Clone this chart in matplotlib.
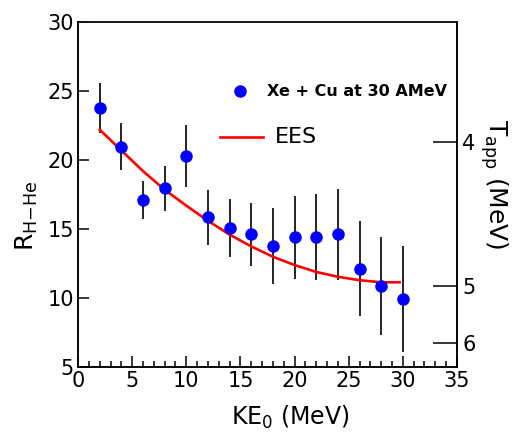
import numpy as np
import matplotlib
matplotlib.use("Agg")
import matplotlib.pyplot as plt
from matplotlib.ticker import MultipleLocator

plt.rcParams['font.family'] = ['DejaVu Sans']
plt.rcParams['mathtext.default'] = 'regular'

# measured ratio vs kinetic energy
ke = [2, 4, 6, 8, 10, 12, 14, 16, 18, 20, 22, 24, 26, 28, 30]
r_hhe = [23.75, 20.97, 17.1, 17.95, 20.3, 15.85, 15.1, 14.62, 13.77, 14.42, 14.42, 14.62, 12.13, 10.87, 9.93]
r_err = [1.8, 1.7, 1.4, 1.65, 2.25, 2.0, 2.1, 2.3, 2.75, 3.0, 3.1, 3.3, 3.45, 3.55, 3.85]

# EES model curve
ees_ke = [2, 4, 6, 8, 10, 12, 14, 16, 18, 20, 22, 24, 26, 28, 29.7]
ees_r = [22.2, 20.7, 19.2, 17.85, 16.7, 15.6, 14.6, 13.75, 13.0, 12.4, 11.9, 11.55, 11.3, 11.15, 11.15]

# apparent temperature axis (R value where each T tick sits)
t_tick_r = [21.33, 10.89, 6.72]
t_tick_labels = ['4', '5', '6']

fig = plt.figure(figsize=(5.24, 4.32), dpi=100)
ax = fig.add_axes([0.149, 0.150, 0.723, 0.799])

ax.errorbar(ke, r_hhe, yerr=r_err, fmt='none', ecolor='black', elinewidth=1.2, capsize=0, zorder=2)
ax.plot(ees_ke, ees_r, color='red', lw=1.9, zorder=3)
ax.plot(ke, r_hhe, 'o', color='blue', ms=8, mec='blue', zorder=4)

ax.set_xlim(0, 35)
ax.set_ylim(5, 30)
ax.xaxis.set_major_locator(MultipleLocator(5))
ax.xaxis.set_minor_locator(MultipleLocator(1))
ax.yaxis.set_major_locator(MultipleLocator(5))
ax.tick_params(axis='x', which='major', direction='in', length=8, width=1.1, labelsize=15, pad=3)
ax.tick_params(axis='x', which='minor', direction='in', length=4, width=1.1)
ax.tick_params(axis='y', which='major', direction='in', length=8, width=1.1, labelsize=15, pad=3)
ax.tick_params(top=False, right=False)
for s in ax.spines.values():
    s.set_linewidth(1.1)
ax.spines['top'].set_color('#555555')

ax.set_xlabel('KE$_0$ (MeV)', fontsize=17)
ax.xaxis.set_label_coords(0.56, -0.105)
ax.set_ylabel('R$_{H{-}He}$', fontsize=18)
ax.yaxis.set_label_coords(-0.10, 0.44)

ax2 = ax.twinx()
ax2.set_ylim(5, 30)
ax2.set_yticks(t_tick_r)
ax2.set_yticklabels(t_tick_labels)
ax2.tick_params(axis='y', direction='in', length=17, width=1.1, labelsize=15, pad=4)
ax2.set_ylabel('T$_{app}$ (MeV)', fontsize=18, rotation=270)
ax2.yaxis.set_label_coords(1.14, 0.53)
for s in ax2.spines.values():
    s.set_linewidth(1.1)

# legend
ax.plot([0.427], [0.80], 'o', color='blue', ms=8, transform=ax.transAxes, clip_on=False)
ax.text(0.499, 0.80, 'Xe + Cu at 30 AMeV', transform=ax.transAxes, fontsize=11.5,
        va='center', ha='left', fontweight='bold')
ax.plot([0.375, 0.488], [0.667, 0.667], color='red', lw=1.9, transform=ax.transAxes)
ax.text(0.52, 0.667, 'EES', transform=ax.transAxes, fontsize=16, va='center', ha='left')

fig.savefig('out.png', dpi=100)
